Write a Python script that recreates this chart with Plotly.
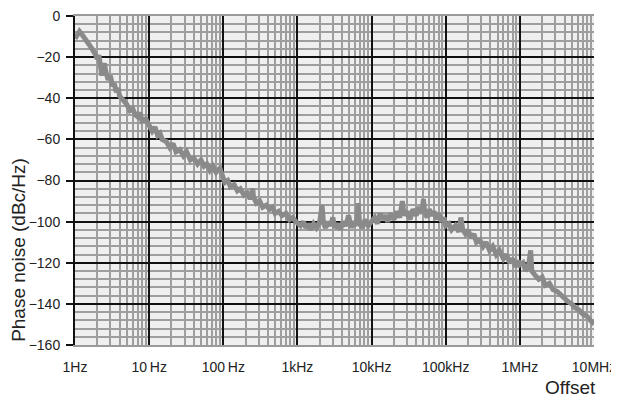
import plotly.graph_objects as go

# Offset frequencies (Hz) and phase noise (dBc/Hz)
freq_hz = [
    1.0, 1.1, 1.15, 1.3, 1.5, 1.7, 1.9, 2.0, 2.1, 2.2, 2.3, 2.4, 2.5, 2.6, 2.8, 3.0, 3.2, 3.4, 3.6, 3.8,
    4.0, 4.5, 5.0, 5.5, 6.0, 6.5, 7.0, 7.5, 8.0, 9.0,
    10, 11, 12, 13, 14, 15, 17, 19, 21, 23, 26, 29, 32, 36, 40, 45, 50, 55, 60, 66, 72, 80, 90,
    100, 105, 115, 125, 140, 155, 170, 190, 210, 230, 250, 255, 280, 310, 340, 380, 420, 460, 500,
    560, 620, 700, 780, 860, 950,
    1000, 1100, 1200, 1300, 1400, 1500, 1650, 1800, 2000, 2150, 2250, 2400, 2600, 2800, 3000, 3200,
    3500, 3800, 4100, 4500, 4900, 5300, 5800, 6300, 6600, 6900, 7500, 8200, 9000,
    10000, 11000, 12000, 13000, 14000, 15000, 16500, 18000, 20000, 22000, 24000, 26000, 27500,
    30000, 33000, 36000, 40000, 44000, 48000, 50000, 52000, 56000, 60000, 65000, 70000, 75000,
    80000, 88000, 95000,
    100000, 110000, 120000, 135000, 150000, 160000, 170000, 185000, 200000, 220000, 240000, 260000,
    290000, 320000, 350000, 390000, 430000, 480000, 530000, 600000, 660000, 730000, 800000, 880000,
    950000,
    1.0e6, 1.1e6, 1.2e6, 1.3e6, 1.4e6, 1.45e6, 1.6e6, 1.8e6, 2.0e6, 2.2e6, 2.5e6, 2.8e6, 3.2e6,
    3.6e6, 4.0e6, 4.5e6, 5.0e6, 5.6e6, 6.3e6, 7.1e6, 8.0e6, 9.0e6, 1.0e7,
]
phase_noise = [
    -11, -8, -7.5, -10, -13, -16, -19, -21, -19, -24, -29, -25, -23, -27, -31, -29, -34, -33, -37, -35,
    -39, -41, -43, -46, -45, -48, -49, -47, -51, -50,
    -53, -56, -54, -58, -57, -60, -61, -64, -62, -66, -65, -68, -66, -70, -69, -72, -70, -73, -72,
    -75, -73, -76, -74,
    -78, -81, -80, -83, -82, -85, -84, -87, -86, -89, -84, -88, -91, -90, -93, -92, -94, -93, -96,
    -95, -97, -96, -99, -98, -100,
    -101, -102, -100, -103, -101, -104, -101, -103, -100, -92, -101, -103, -100, -102, -98, -103,
    -101, -104, -100, -102, -97, -103, -100, -102, -91, -101, -103, -99, -102,
    -100, -98, -101, -96, -99, -97, -100, -96, -99, -95, -98, -90, -97,
    -95, -99, -94, -97, -93, -96, -89, -95, -98, -94, -97, -95, -99,
    -96, -100, -98,
    -102, -101, -104, -102, -105, -98, -104, -106, -104, -108, -106, -110,
    -109, -112, -110, -114, -112, -116, -114, -118, -116, -120, -118, -122,
    -119,
    -121, -120, -124, -122, -114, -124, -126, -128, -127, -131, -130, -133, -134,
    -136, -137, -139, -140, -142, -143, -145, -146, -148, -150,
]

x_tick_vals = [1, 10, 100, 1e3, 1e4, 1e5, 1e6, 1e7]
x_tick_text = ["1Hz", "10\u2009Hz", "100\u2009Hz", "1kHz", "10kHz", "100kHz", "1MHz", "10MHz"]
y_tick_vals = [0, -20, -40, -60, -80, -100, -120, -140, -160]

font_family = "Liberation Sans, Arial, sans-serif"

fig = go.Figure()
fig.add_trace(go.Scatter(
    x=freq_hz, y=phase_noise, mode="lines",
    line=dict(color="#8a8a8a", width=5), hoverinfo="skip", showlegend=False,
))

fig.update_layout(
    width=619, height=398,
    margin=dict(l=67, r=33, t=8, b=61),
    paper_bgcolor="white", plot_bgcolor="#efefef",
    font=dict(family=font_family, size=14, color="#222222"),
    showlegend=False,
    xaxis=dict(
        type="log", range=[0, 7], automargin=False, ticklabeloverflow="allow",
        tickmode="array", tickvals=x_tick_vals, ticktext=x_tick_text,
        ticks="", ticklabelstandoff=8,
        showgrid=True, gridcolor="#111111", gridwidth=2,
        minor=dict(dtick="D1", showgrid=True, gridcolor="#9e9e9e", gridwidth=2, ticks=""),
        showline=True, linecolor="#9a9a9a", linewidth=2, mirror=True,
        zeroline=False, tickfont=dict(size=14, color="#222222"),
    ),
    yaxis=dict(
        range=[-160, 0], automargin=False, ticklabeloverflow="allow",
        tickmode="array", tickvals=y_tick_vals,
        ticks="outside", ticklen=7, tickwidth=2, tickcolor="#111111",
        ticklabelstandoff=3,
        showgrid=True, gridcolor="#111111", gridwidth=2,
        minor=dict(dtick=4, showgrid=True, gridcolor="#9e9e9e", gridwidth=2, ticks=""),
        showline=True, linecolor="#111111", linewidth=2,
        zeroline=False, tickfont=dict(size=14, color="#222222"),
    ),
)

fig.add_annotation(
    text="Phase noise (dBc/Hz)", textangle=-90,
    xref="paper", yref="paper", x=-0.108, y=0.289,
    xanchor="center", yanchor="middle", showarrow=False,
    font=dict(size=19, color="#222222", family=font_family),
)
fig.add_annotation(
    text="Offset",
    xref="paper", yref="paper", x=0.954, y=-0.128,
    xanchor="center", yanchor="middle", showarrow=False,
    font=dict(size=19, color="#222222", family=font_family),
)

fig.write_html("out.html")
